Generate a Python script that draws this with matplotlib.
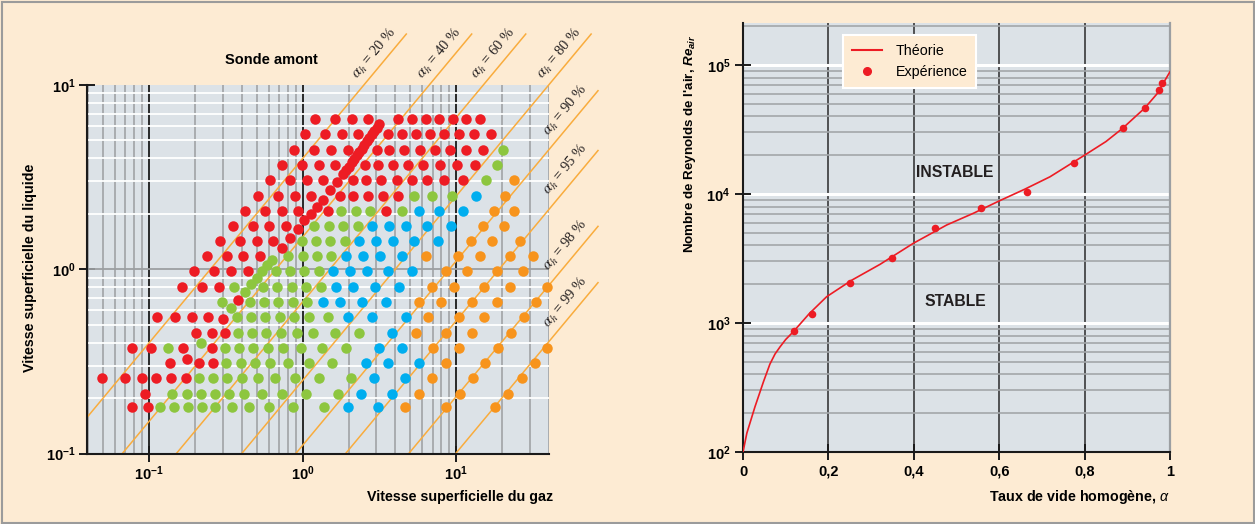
import numpy as np
import matplotlib.pyplot as plt
from matplotlib.lines import Line2D
from matplotlib.patches import Rectangle
from matplotlib.ticker import LogLocator, NullFormatter, FixedLocator

# --- fonts ---
plt.rcParams['font.family'] = 'Liberation Sans'
plt.rcParams['mathtext.fontset'] = 'custom'
plt.rcParams['mathtext.rm'] = 'Liberation Sans'
plt.rcParams['mathtext.it'] = 'Liberation Sans:italic'
plt.rcParams['mathtext.bf'] = 'Liberation Sans:bold'
if 'mathtext.bfit' in plt.rcParams:
    plt.rcParams['mathtext.bfit'] = 'Liberation Sans:italic:bold'

# --- couleurs ---
BG = '#FDEBD3'
PLOT_BG = '#DCE2E7'
RED = '#ED1C24'
GREEN = '#8DC63F'
BLUE = '#00AEEF'
ORANGE = '#F7941D'
LINE_OR = '#F9AC3D'
DARK = '#1A1A1A'

# --- Données : sonde amont (j_l, [j_g ...]) par rangée ---
red_rows = [
    (6.54, [1.20, 1.62, 2.08, 2.67, 4.15, 5.12, 6.32, 7.75, 9.47, 11.6, 14.3]),
    (5.40, [1.03, 1.40, 1.81, 2.30, 3.60, 4.41, 5.49, 6.74, 8.35, 10.4, 13.0, 16.8]),
    (4.44, [0.880, 1.19, 1.53, 1.96, 3.03, 3.66, 4.58, 5.80, 7.27, 9.10, 11.6, 15.0]),
    (3.68, [0.729, 0.984, 1.27, 1.62, 2.54, 3.08, 3.89, 4.87, 6.10, 7.83, 10.1, 13.2]),
    (3.05, [0.611, 0.825, 1.07, 1.36, 2.13, 2.58, 3.23, 4.09, 5.12, 6.41, 8.35, 11.1]),
    (2.51, [0.508, 0.686, 0.890, 1.13, 1.75, 2.11, 2.65, 3.35, 4.17]),
    (2.08, [0.420, 0.570, 0.735, 0.934, 1.46, 3.47]),
    (1.72, [0.349, 0.471, 0.605, 0.777]),
    (1.42, [0.289, 0.390, 0.500, 0.642]),
    (1.18, [0.236, 0.319, 0.410, 0.526]),
    (0.973, [0.196, 0.265, 0.341, 0.437]),
    (0.805, [0.163, 0.220, 0.283]),
    (0.681, [0.380]),
    (0.549, [0.112, 0.147, 0.191, 0.240]),
    (0.537, [0.301]),
    (0.454, [0.201, 0.257, 0.313]),
    (0.373, [0.0768, 0.102, 0.167, 0.255]),
    (0.325, [0.177]),
    (0.310, [0.136, 0.212, 0.259]),
    (0.256, [0.0492, 0.0695, 0.0900, 0.111, 0.138, 0.173]),
    (0.211, [0.0942]),
    (0.178, [0.0775, 0.0985]),
]
# balayage serré (points rouges alignés)
red_scan_jg = [3.15, 3.05, 2.93, 2.82, 2.72, 2.62, 2.52, 2.43, 2.34, 2.26, 2.17, 2.09,
               2.00, 1.91, 1.82, 1.66, 1.50, 1.36, 1.24, 1.13, 1.02, 0.926, 0.825, 0.729]
red_scan_jl = [6.12, 5.88, 5.63, 5.39, 5.16, 4.94, 4.72, 4.52, 4.33, 4.15, 3.97, 3.80,
               3.61, 3.44, 3.28, 2.99, 2.69, 2.38, 2.19, 2.00, 1.84, 1.65, 1.48, 1.30]

green_rows = [
    (4.44, [20.3]),
    (3.68, [18.3]),
    (3.05, [15.6]),
    (2.51, [5.32, 6.92, 9.42]),
    (2.08, [1.77, 2.21, 2.74, 4.41]),
    (1.72, [1.19, 1.48, 1.82, 2.28]),
    (1.42, [0.984, 1.22, 1.50, 1.88]),
    (1.18, [0.804, 1.01, 1.23, 1.53]),
    (0.973, [0.669, 0.825, 1.02, 1.27]),
    (0.805, [0.356, 0.548, 0.682, 0.847, 1.05, 1.31]),
    (0.665, [0.296, 0.453, 0.561, 0.692, 0.867, 1.07]),
    (0.549, [0.371, 0.462, 0.570, 0.710, 0.877, 1.10, 1.45]),
    (0.454, [0.378, 0.469, 0.578, 0.721, 0.912, 1.17, 1.61, 2.32]),
    (0.397, [0.217]),
    (0.373, [0.132, 0.311, 0.385, 0.476, 0.596, 0.740, 0.969, 1.33, 1.92]),
    (0.310, [0.316, 0.394, 0.488, 0.611, 0.797, 1.09, 1.56]),
    (0.256, [0.212, 0.261, 0.322, 0.403, 0.508, 0.659, 0.890, 1.27, 2.06]),
    (0.211, [0.141, 0.175, 0.216, 0.267, 0.330, 0.414, 0.540, 0.729, 1.05, 1.70]),
    (0.178, [0.118, 0.144, 0.178, 0.220, 0.269, 0.344, 0.444, 0.599, 0.859, 1.38]),
]
green_scan_jg = [0.627, 0.581, 0.540, 0.500, 0.460, 0.420, 0.339]
green_scan_jl = [1.13, 1.05, 0.973, 0.900, 0.829, 0.756, 0.613]

blue_rows = [
    (2.51, [13.4]),
    (2.08, [5.71, 7.75, 11.1]),
    (1.72, [2.84, 3.64, 4.70, 6.47, 9.24]),
    (1.42, [2.33, 3.00, 3.89, 5.32, 7.56]),
    (1.18, [1.91, 2.46, 3.18, 4.41]),
    (0.973, [1.57, 2.03, 2.61, 3.57, 5.17]),
    (0.805, [1.65, 2.13, 2.95, 4.23]),
    (0.665, [1.35, 1.75, 2.42, 3.48]),
    (0.549, [1.96, 2.84, 4.70]),
    (0.454, [3.83]),
    (0.373, [3.14, 4.41]),
    (0.310, [2.58, 3.60, 5.74]),
    (0.256, [2.92, 4.65]),
    (0.211, [2.39, 3.80]),
    (0.178, [1.96, 3.10]),
]

orange_rows = [
    (3.05, [23.8]),
    (2.51, [20.8]),
    (2.08, [17.7, 23.8]),
    (1.72, [15.0, 20.5]),
    (1.42, [12.4, 17.2, 26.0]),
    (1.18, [6.32, 10.3, 14.3, 22.4, 31.7]),
    (0.973, [8.53, 11.8, 18.5, 27.1]),
    (0.805, [6.92, 9.70, 15.2, 22.4, 39.1]),
    (0.665, [5.71, 7.92, 12.6, 18.5, 33.0]),
    (0.549, [6.51, 10.4, 15.2, 27.6]),
    (0.454, [5.44, 8.53, 12.7, 22.6]),
    (0.373, [7.02, 10.4, 18.8, 38.8]),
    (0.310, [8.53, 15.5, 32.6]),
    (0.256, [6.98, 12.9, 26.7]),
    (0.211, [5.71, 10.5, 21.8]),
    (0.178, [4.63, 8.53, 17.9]),
]

# taux de vide homogène des droites
alpha_levels = [0.20, 0.40, 0.60, 0.80, 0.90, 0.95, 0.98, 0.99]
alpha_labels = ['20', '40', '60', '80', '90', '95', '98', '99']

# --- Données : Reynolds de l'air ---
exp_alpha = [0.119, 0.162, 0.251, 0.348, 0.450, 0.557, 0.664, 0.775, 0.889, 0.941, 0.975, 0.982]
exp_re = [870, 1175, 2030, 3170, 5480, 7740, 10400, 17500, 32300, 46400, 64000, 72000]
th_alpha = [0.0, 0.009, 0.028, 0.048, 0.063, 0.075, 0.087, 0.100, 0.118, 0.155, 0.196,
            0.255, 0.321, 0.399, 0.477, 0.540, 0.602, 0.660, 0.719, 0.800, 0.850, 0.889,
            0.941, 0.970, 1.0]
th_re = [100, 140, 224, 351, 480, 575, 655, 745, 857, 1180, 1600,
         2150, 2850, 4150, 5750, 7100, 8900, 10900, 13600, 20000, 25500, 32300,
         46400, 60000, 88700]


def flatten(rows):
    xs, ys = [], []
    for jl, jgs in rows:
        xs += jgs
        ys += [jl] * len(jgs)
    return xs, ys


W, H = 1255, 524
fig = plt.figure(figsize=(W / 100, H / 100), dpi=100, facecolor=BG)

# ================= Graphique gauche =================
ax1 = fig.add_axes([87 / W, 1 - 453.6 / H, (548.7 - 87) / W, (453.6 - 85) / H])
ax1.set_facecolor(PLOT_BG)
ax1.set_xscale('log')
ax1.set_yscale('log')
ax1.set_xlim(0.0393, 40)
ax1.set_ylim(0.1, 10)
ax1.set_axisbelow(True)

for axis in (ax1.xaxis, ax1.yaxis):
    axis.set_major_locator(FixedLocator([0.1, 1, 10]))
    axis.set_minor_locator(LogLocator(base=10, subs=np.arange(2, 10), numticks=20))
    axis.set_minor_formatter(NullFormatter())
dec_labels = [r'$\mathbf{10^{-1}}$', r'$\mathbf{10^{0}}$', r'$\mathbf{10^{1}}$']
ax1.set_xticklabels(dec_labels)
ax1.set_yticklabels(dec_labels)

ax1.grid(True, which='minor', axis='x', color='#A5A8AB', lw=1.3)
ax1.grid(True, which='major', axis='x', color=DARK, lw=1.3)
ax1.grid(True, which='minor', axis='y', color='white', lw=1.3)
ax1.axhline(1, color='#9C9FA2', lw=1.3, zorder=0.6)

for s in ('top', 'right'):
    ax1.spines[s].set_visible(False)
for s in ('left', 'bottom'):
    ax1.spines[s].set_color(DARK)
    ax1.spines[s].set_linewidth(1.5)
ax1.tick_params(which='major', direction='inout', length=12, width=1.4, color=DARK,
                labelsize=10.5, pad=2)
ax1.tick_params(which='minor', length=0)

# droites alpha_h = cste : j_l = j_g (1 - a) / a
x_lo, y_lo = 0.0393, 0.1
x_hi, y_hi = 83.8, 18.9
p0 = ax1.transData.transform((1, 1))
p1 = ax1.transData.transform((10, 10))
ang = np.degrees(np.arctan2(p1[1] - p0[1], p1[0] - p0[0]))
for a, lab in zip(alpha_levels, alpha_labels):
    k = (1 - a) / a
    xa = max(x_lo, y_lo / k)
    xb = min(x_hi, y_hi / k)
    ax1.plot([xa, xb], [k * xa, k * xb], color=LINE_OR, lw=1.1, clip_on=False, zorder=2)
    ax1.annotate(r'$\alpha_h$ = %s %%' % lab, (xb, k * xb), xytext=(-4.5, -0.5),
                 textcoords='offset points', rotation=ang, rotation_mode='anchor',
                 ha='right', va='bottom', fontsize=10.5, color='#231F20',
                 family='Liberation Serif', math_fontfamily='stix', annotation_clip=False)

for rows, col in ((red_rows, RED), (green_rows, GREEN), (blue_rows, BLUE), (orange_rows, ORANGE)):
    xs, ys = flatten(rows)
    ax1.scatter(xs, ys, s=57, color=col, linewidths=0, zorder=3, clip_on=False)
ax1.scatter(red_scan_jg, red_scan_jl, s=57, color=RED, linewidths=0, zorder=3)
ax1.scatter(green_scan_jg, green_scan_jl, s=57, color=GREEN, linewidths=0, zorder=3)

ax1.text(0.40, 1.068, 'Sonde amont', transform=ax1.transAxes, ha='center', va='center',
         fontsize=10.5, fontweight='bold')
fig.text(30 / W, 1 - 268 / H, 'Vitesse superficielle du liquide', rotation=90,
         ha='center', va='center', fontsize=10.3, fontweight='bold')
fig.text(553 / W, 1 - 497 / H, 'Vitesse superficielle du gaz', ha='right', va='center',
         fontsize=10.3, fontweight='bold')

# ================= Graphique droit =================
ax2 = fig.add_axes([743 / W, 1 - 452 / H, 427 / W, (452 - 23) / H])
ax2.set_facecolor(PLOT_BG)
ax2.set_yscale('log')
ax2.set_xlim(0, 1)
ax2.set_ylim(100, 10 ** (2 + 429 / 129))
ax2.set_axisbelow(True)

ax2.xaxis.set_major_locator(FixedLocator([0, 0.2, 0.4, 0.6, 0.8, 1.0]))
ax2.set_xticklabels(['0', '0,2', '0,4', '0,6', '0,8', '1'], fontweight='bold')
ax2.yaxis.set_major_locator(FixedLocator([1e2, 1e3, 1e4, 1e5]))
ax2.set_yticklabels([r'$\mathbf{10^{2}}$', r'$\mathbf{10^{3}}$', r'$\mathbf{10^{4}}$',
                     r'$\mathbf{10^{5}}$'])
ax2.yaxis.set_minor_locator(LogLocator(base=10, subs=np.arange(2, 10), numticks=20))
ax2.yaxis.set_minor_formatter(NullFormatter())

ax2.grid(True, which='major', axis='x', color='#2A2A2A', lw=1.1)
ax2.grid(True, which='minor', axis='y', color='#A3A6A9', lw=1.2)
ax2.grid(True, which='major', axis='y', color='white', lw=2.2)

ax2.spines['top'].set_visible(False)
ax2.spines['right'].set_color('#9C9FA2')
ax2.spines['right'].set_linewidth(1.6)
for s in ('left', 'bottom'):
    ax2.spines[s].set_color(DARK)
    ax2.spines[s].set_linewidth(1.5)
ax2.tick_params(which='major', direction='inout', length=12, width=1.4, color=DARK,
                labelsize=10.5, pad=3)
ax2.tick_params(which='minor', length=0)

ax2.plot(th_alpha, th_re, color=RED, lw=1.2, zorder=3)
ax2.scatter(exp_alpha, exp_re, s=30, color=RED, linewidths=0, zorder=4)

ax2.text(0.4965, 14800, 'INSTABLE', ha='center', va='center', fontsize=11.3, fontweight='bold',
         color='#231F20')
ax2.text(0.4965, 1480, 'STABLE', ha='center', va='center', fontsize=11.3, fontweight='bold',
         color='#231F20')

handles = [Line2D([], [], color=RED, lw=1.5),
           Line2D([], [], color=RED, marker='o', ms=5.5, lw=0)]
leg = ax2.legend(handles, ['Théorie', 'Expérience'], loc='upper left',
                 bbox_to_anchor=(0.234, 0.972), borderaxespad=0, fontsize=10.3,
                 frameon=True, fancybox=False, handlelength=2.1, handletextpad=1.0,
                 borderpad=0.6, labelspacing=0.55)
leg.get_frame().set_facecolor(BG)
leg.get_frame().set_edgecolor('white')
leg.get_frame().set_linewidth(1.5)
leg.get_frame().set_alpha(1)

fig.text(690 / W, 1 - 144 / H, "Nombre de Reynolds de l'air, $\\mathbfit{Re}_{\\mathbfit{air}}$",
         rotation=90, ha='center', va='center', fontsize=9.6, fontweight='bold')
fig.text(1170 / W, 1 - 497 / H, 'Taux de vide homogène, $\\alpha$', ha='right', va='center',
         fontsize=10.3, fontweight='bold')

# cadre
fig.patches.append(Rectangle((1.5 / W, 1.5 / H), 1 - 3 / W, 1 - 3 / H, transform=fig.transFigure,
                             fill=False, edgecolor='#9B9B9B', lw=1.5))

fig.savefig('out.png', dpi=100, facecolor=BG)
